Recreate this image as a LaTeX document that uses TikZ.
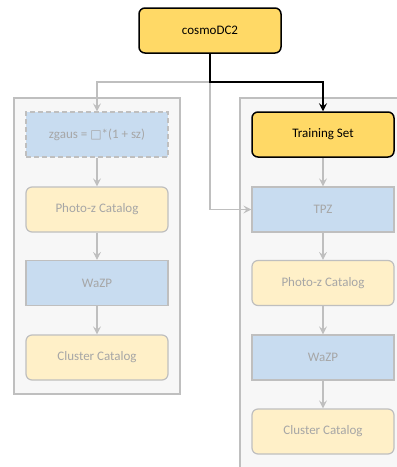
\documentclass[tikz,border=0pt]{standalone}
\usepackage{fontspec}
\setmainfont{Carlito}
\newfontfamily\symfont{DejaVu Sans}
\usetikzlibrary{arrows.meta}
\definecolor{boldyellow}{HTML}{FFD966}
\definecolor{paleyellow}{HTML}{FFF0C8}
\definecolor{paleblue}{HTML}{C8DCF0}
\definecolor{greyline}{HTML}{BFBFBF}
\definecolor{greytext}{HTML}{A6A6A6}
\definecolor{panelfill}{HTML}{F7F7F7}
\tikzset{
  x=1pt, y=-1pt,
  every node/.style={font=\fontsize{13}{15}\selectfont, minimum width=142pt, minimum height=45pt, inner sep=0pt, line width=1.2pt},
  panel/.style={draw=greyline, fill=panelfill, line width=1.2pt},
  activebox/.style={draw=black, fill=boldyellow, rounded corners=6pt, line width=1.5pt, text=black},
  catalogbox/.style={draw=greyline, fill=paleyellow, rounded corners=6pt, text=greytext},
  processbox/.style={draw=greyline, fill=paleblue, text=greytext},
  dashbox/.style={processbox, dashed, dash pattern=on 5pt off 3pt},
  greyflow/.style={draw=greyline, line width=1.2pt, -{Stealth[length=8pt,width=8pt,inset=3pt]}},
  blackflow/.style={draw=black, line width=1.8pt, -{Stealth[length=8pt,width=8pt,inset=3pt]}},
}
\begin{document}
\begin{tikzpicture}
\useasboundingbox (0,0) rectangle (397,467);
\fill[white] (0,0) rectangle (397,467);

% two column panels
\draw[panel] (14,98) rectangle (180,394);
\draw[panel] (240,98) rectangle (402,472);

% source catalogue
\node[activebox] (dc2) at (210,30.5) {cosmoDC2};

% left column
\node[dashbox] (zg) at (97,134.5) {zgaus = {\symfont\fontsize{12}{14}\selectfont □}*(1 + sz)};
\node[catalogbox] (pzl) at (97,209.5) {Photo-z Catalog};
\node[processbox] (wzl) at (97,283) {WaZP};
\node[catalogbox] (ccl) at (97,357.5) {Cluster Catalog};

% right column
\node[activebox] (ts) at (323,134.5) {Training Set};
\node[processbox] (tpz) at (323,209.5) {TPZ};
\node[catalogbox] (pzr) at (323,283) {Photo-z Catalog};
\node[processbox] (wzr) at (323,357.5) {WaZP};
\node[catalogbox] (ccr) at (323,431.5) {Cluster Catalog};

% branch point
\coordinate (fork) at (210,82);

% grey flows
\draw[greyflow] (fork) -| (zg.north);
\draw[greyflow] (fork) |- (tpz.west);
\draw[greyflow] (zg) -- (pzl);
\draw[greyflow] (pzl) -- (wzl);
\draw[greyflow] (wzl) -- (ccl);
\draw[greyflow] (ts) -- (tpz);
\draw[greyflow] (tpz) -- (pzr);
\draw[greyflow] (pzr) -- (wzr);
\draw[greyflow] (wzr) -- (ccr);

% highlighted flow
\draw[blackflow] (dc2.south) |- (fork) -| (ts.north);
\end{tikzpicture}
\end{document}
